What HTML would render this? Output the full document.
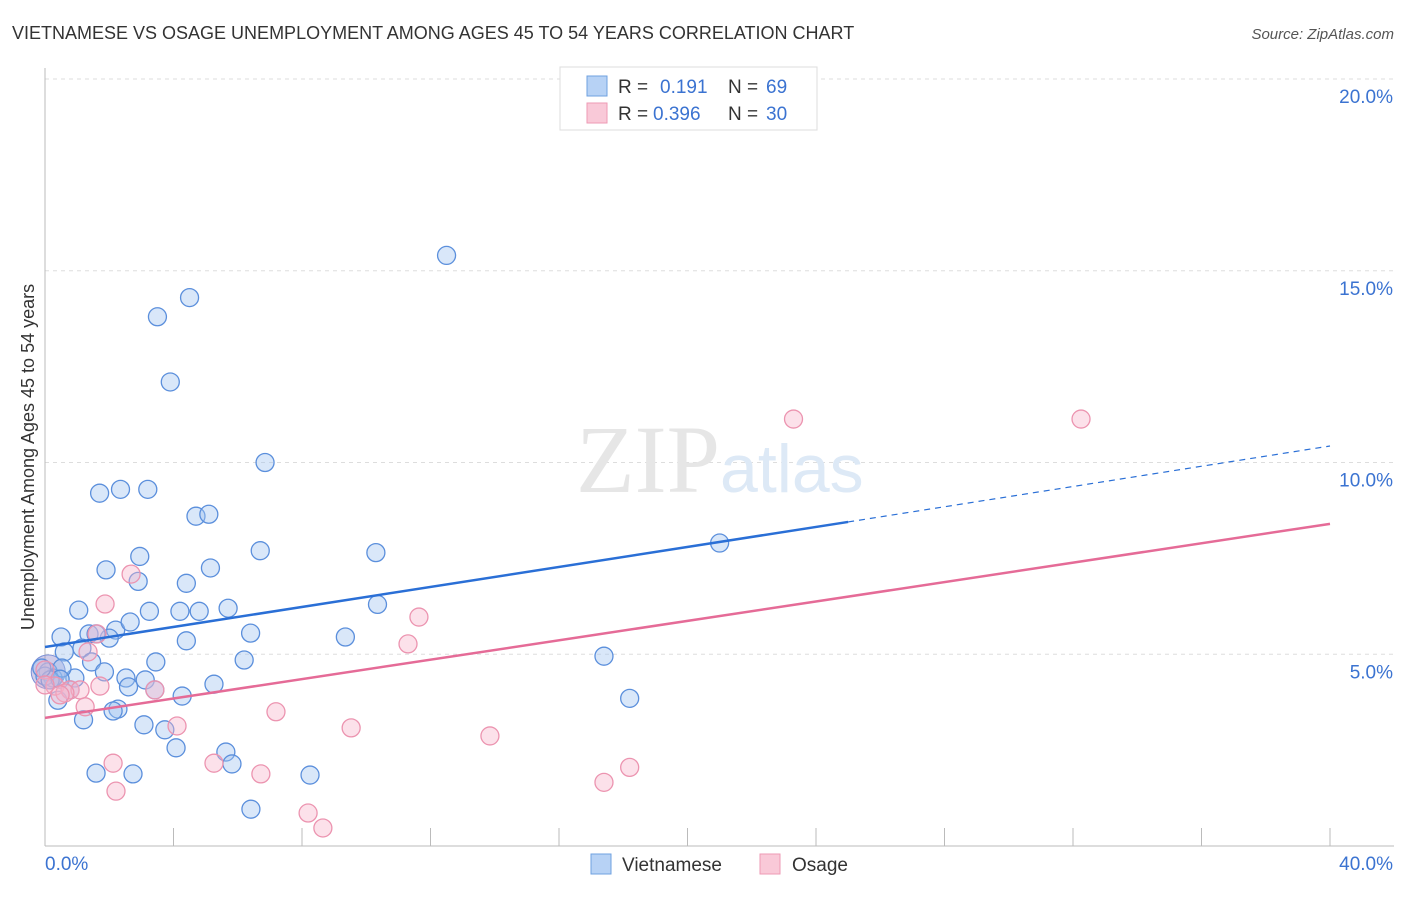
<!DOCTYPE html>
<html><head><meta charset="utf-8">
<style>
body{margin:0;background:#fff;font-family:"Liberation Sans",sans-serif;}
svg text{font-family:"Liberation Sans",sans-serif;}
</style></head>
<body>
<svg id="chart" width="1406" height="892">
<text x="12" y="39" font-size="18" fill="#333">VIETNAMESE VS OSAGE UNEMPLOYMENT AMONG AGES 45 TO 54 YEARS CORRELATION CHART</text>
<text x="1394" y="39" font-size="15" fill="#555" font-style="italic" text-anchor="end">Source: ZipAtlas.com</text>
<text transform="translate(34,457) rotate(-90)" font-size="18" fill="#333" text-anchor="middle">Unemployment Among Ages 45 to 54 years</text>
<g id="grid"></g>
<text x="720" y="492" font-size="96" fill="#e6e6e6" text-anchor="end" style="font-family:'Liberation Serif',serif">ZIP</text>
<text x="720" y="492" font-size="68" fill="#dde9f6">atlas</text>
<g id="marks"></g>
<g>
<rect x="560" y="67" width="257" height="63" fill="#fff" stroke="#ddd"/>
<rect x="587" y="76" width="20" height="20" fill="#b7d2f5" stroke="#6fa1e0"/>
<text x="618" y="93" font-size="19" fill="#333">R = </text><text x="660" y="93" font-size="19" fill="#3b73d1">0.191</text>
<text x="728" y="93" font-size="19" fill="#333">N = </text><text x="766" y="93" font-size="19" fill="#3b73d1">69</text>
<rect x="587" y="103" width="20" height="20" fill="#f9c9d8" stroke="#ee9ab4"/>
<text x="618" y="120" font-size="19" fill="#333">R = </text><text x="653" y="120" font-size="19" fill="#3b73d1">0.396</text>
<text x="728" y="120" font-size="19" fill="#333">N = </text><text x="766" y="120" font-size="19" fill="#3b73d1">30</text>
</g>
<g>
<rect x="591" y="854" width="20" height="20" fill="#b7d2f5" stroke="#6fa1e0"/>
<text x="622" y="871" font-size="19" fill="#333">Vietnamese</text>
<rect x="760" y="854" width="20" height="20" fill="#f9c9d8" stroke="#ee9ab4"/>
<text x="792" y="871" font-size="19" fill="#333">Osage</text>
</g>
</svg>
<script>
const yTicks=[5,10,15,20];
const yTickLabels=["5.0%","10.0%","15.0%","20.0%"];
const xTickLabels=["0.0%","40.0%"];
const vietX=[12.5,4.5,3.5,3.9,6.85,1.7,2.35,3.2,4.7,5.1,21.0,6.7,10.3,2.95,1.9,5.15,2.9,4.4,1.05,3.25,4.2,4.8,5.7,10.35,0.5,1.37,2.2,2.65,2.0,4.4,6.4,9.35,1.15,0.6,1.45,3.45,6.2,17.4,1.85,0.1,0.25,0.93,2.52,3.12,2.6,3.42,4.27,5.26,0.4,18.2,1.2,2.27,2.12,3.08,3.73,4.08,5.63,5.82,1.59,2.74,8.25,6.41,0.53,0,0.16,1.59,-0.1,0.47,0.78];
const vietY=[15.4,14.3,13.8,12.1,10.0,9.2,9.3,9.3,8.6,8.65,7.9,7.7,7.65,7.55,7.2,7.25,6.9,6.85,6.15,6.12,6.12,6.12,6.2,6.3,5.45,5.53,5.63,5.84,5.42,5.35,5.55,5.45,5.16,5.06,4.8,4.8,4.85,4.95,4.54,4.54,4.38,4.38,4.38,4.33,4.15,4.07,3.91,4.22,3.8,3.85,3.29,3.57,3.52,3.16,3.03,2.56,2.45,2.14,1.9,1.88,1.85,0.96,4.64,4.43,4.33,5.53,4.64,4.35,4.07];
const osageX=[23.3,32.25,2.68,1.87,11.64,11.3,1.62,1.34,0,0.31,0.78,1.09,0.62,1.71,3.42,1.25,7.19,4.11,9.53,13.85,2.12,5.26,6.72,18.2,17.4,2.21,8.19,8.65,0,0.47];
const osageY=[11.133,11.133,7.09,6.31,5.97,5.27,5.53,5.06,4.59,4.17,4.07,4.07,3.99,4.17,4.07,3.63,3.5,3.13,3.08,2.87,2.16,2.16,1.88,2.05,1.66,1.43,0.86,0.47,4.2,3.94];
const trendVX=[0,25,40];
const trendV=[5.19,8.45,10.43];
const trendO=[3.34,8.40];
const X=v=>45+v*32.125, Y=v=>846-v*38.35;
const NS="http://www.w3.org/2000/svg";
function mk(tag,attrs,parent){const e=document.createElementNS(NS,tag);for(const k in attrs)e.setAttribute(k,attrs[k]);parent.appendChild(e);return e;}
const grid=document.getElementById('grid'), marks=document.getElementById('marks');
yTicks.forEach((t,i)=>{
 const l=mk('line',{x1:45,x2:1394,y1:Y(t),y2:Y(t),stroke:'#ddd','stroke-dasharray':'4,4'},grid);
 
 
 const tx=mk('text',{x:1393,y:Y(t)+24,'font-size':19,fill:'#3b73d1','text-anchor':'end'},grid);
 tx.textContent=yTickLabels[i];
 
 
});
mk('line',{x1:45,x2:45,y1:68,y2:846,stroke:'#bbb'},grid);
mk('line',{x1:45,x2:1394,y1:846,y2:846,stroke:'#bbb'},grid);
for(let i=1;i<=10;i++){const t=mk('line',{x1:45+i*128.5,x2:45+i*128.5,y1:828,y2:846,stroke:'#bbb'},grid);
 
 }
const xl0=mk('text',{x:45,y:870,'font-size':19,fill:'#3b73d1'},grid);xl0.textContent=xTickLabels[0];


const xl1=mk('text',{x:1393,y:870,'font-size':19,fill:'#3b73d1','text-anchor':'end'},grid);xl1.textContent=xTickLabels[1];


const big=mk('circle',{cx:X(0.1),cy:Y(4.54),r:17,fill:'rgba(140,130,200,0.4)',stroke:'#7a8fd6'},marks);


vietX.forEach((v,i)=>{const c=mk('circle',{cx:X(v),cy:Y(vietY[i]),r:9,fill:'rgba(160,196,240,0.4)',stroke:'#5b8fdc','stroke-width':1.3},marks);
 
 });
osageX.forEach((v,i)=>{const c=mk('circle',{cx:X(v),cy:Y(osageY[i]),r:9,fill:'rgba(248,180,202,0.4)',stroke:'#ec94b0','stroke-width':1.3},marks);
 
 });
const lv=mk('line',{x1:X(trendVX[0]),y1:Y(trendV[0]),x2:X(trendVX[1]),y2:Y(trendV[1]),stroke:'#2a6fd6','stroke-width':2.5},marks);


const lvd=mk('line',{x1:X(trendVX[1]),y1:Y(trendV[1]),x2:X(trendVX[2]),y2:Y(trendV[2]),stroke:'#2a6fd6','stroke-width':1.2,'stroke-dasharray':'6,5'},marks);


const lo=mk('line',{x1:X(0),y1:Y(trendO[0]),x2:X(40),y2:Y(trendO[1]),stroke:'#e56b97','stroke-width':2.5},marks);


</script>
</body></html>
